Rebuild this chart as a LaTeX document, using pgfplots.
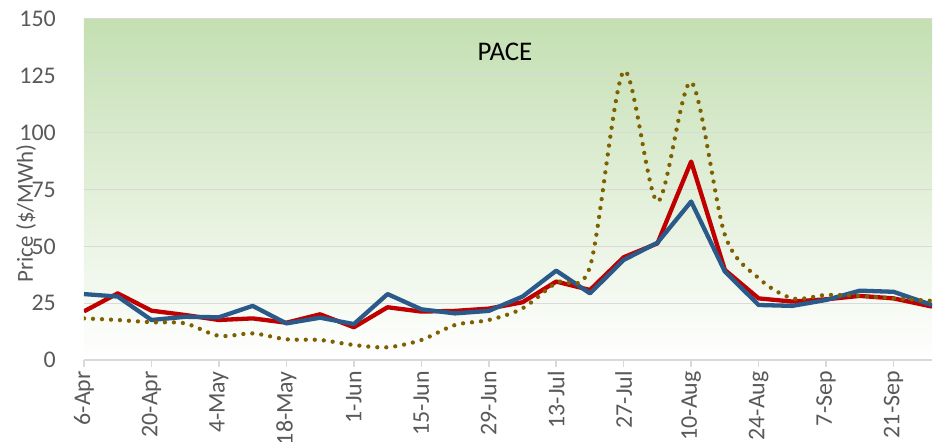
\documentclass[border=0pt]{standalone}
\usepackage{fontspec}
\setmainfont{Carlito}
\usepackage{pgfplots}
\pgfplotsset{compat=1.18}
\definecolor{redL}{HTML}{C00000}
\definecolor{blueL}{HTML}{2A5A8A}
\definecolor{goldL}{HTML}{7F6000}
\definecolor{gridc}{HTML}{D9D9D9}
\definecolor{tickc}{HTML}{595959}
\definecolor{topg}{HTML}{C4DFB2}

\pgfplotstableread{
x red blue gold
0 21.4 29.0 18.3
1 29.3 27.9 17.6
2 21.7 17.6 16.6
3 19.8 19.0 16.1
4 17.6 18.8 10.6
5 18.3 23.8 11.7
6 16.4 16.1 9.1
7 20.1 18.6 8.8
8 14.4 15.8 6.6
9 23.2 29.0 5.6
10 21.3 22.3 8.8
11 21.6 20.5 15.4
12 22.6 21.6 17.6
13 25.4 27.9 22.7
14 34.5 39.3 34.0
15 30.8 29.3 41.0
16 45.2 44.0 127.0
17 51.3 51.6 69.7
18 87.3 69.7 122.2
19 39.6 38.9 55.0
20 27.1 24.2 36.0
21 25.7 23.8 27.1
22 26.7 26.4 28.6
23 28.2 30.5 28.2
24 27.1 30.0 27.1
25.14 23.5 24.2 26.0
}\datatable

\begin{document}
\begin{tikzpicture}
\begin{axis}[
  name=ax,
  scale only axis, width=848bp, height=341bp,
  xmin=0, xmax=25.14, ymin=0, ymax=150,
  axis background/.style={top color=topg, bottom color=white},
  axis lines*=left,
  axis line style={-},
  y axis line style={draw=none},
  x axis line style={draw=gridc, line width=1.5bp},
  ytick={0,25,...,150},
  ymajorgrids, grid style={gridc, line width=1bp},
  ytick style={draw=none},
  xtick={0,2,...,24},
  xticklabels={6-Apr,20-Apr,4-May,18-May,1-Jun,15-Jun,29-Jun,13-Jul,27-Jul,10-Aug,24-Aug,7-Sep,21-Sep},
  tick align=outside, major tick length=7bp,
  xtick style={draw=gridc, line width=1.5bp},
  x tick label style={rotate=90, anchor=east, inner sep=4bp, font=\fontsize{24}{28}\selectfont, text=tickc},
  y tick label style={anchor=east, inner sep=0pt, xshift=-21bp, font=\fontsize{24}{28}\selectfont, text=tickc},
  /pgf/number format/assume math mode=true,
  ylabel={Price (\$/MWh)},
  every axis y label/.style={at={(axis description cs:0,0.43)}, xshift=-58bp, rotate=90, anchor=center, font=\fontsize{23}{27}\selectfont, text=tickc},
]
\addplot[redL, line width=4.3bp, line join=round] table[x=x, y=red] {\datatable};
\addplot[blueL, line width=4.3bp, line join=round] table[x=x, y=blue] {\datatable};
\addplot[goldL, line width=4.3bp, line cap=round, dash pattern=on 0bp off 9bp, smooth] table[x=x, y=gold] {\datatable};
\node[font=\fontsize{27}{32}\selectfont, text=black] at (axis cs:12.48,135.5) {PACE};
\end{axis}
\pgfresetboundingbox
\path[use as bounding box] (ax.south west) ++(-84bp,-82bp) rectangle ++(942bp,442bp);
\end{tikzpicture}
\end{document}
